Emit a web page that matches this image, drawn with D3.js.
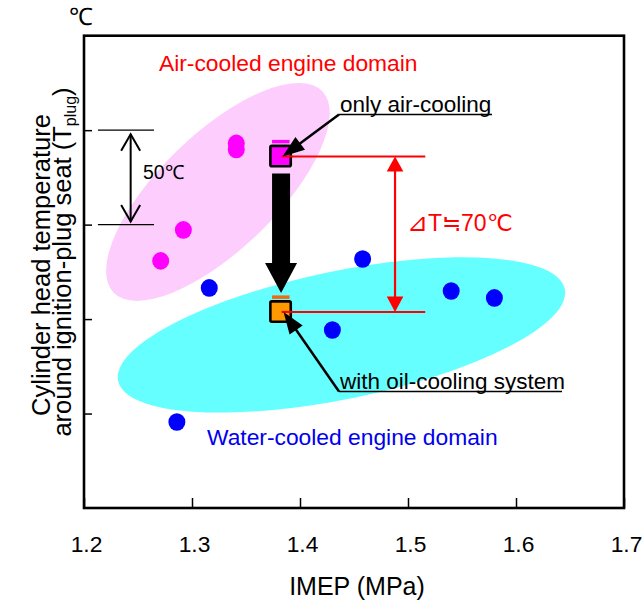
<!DOCTYPE html>
<html><head><meta charset="utf-8">
<script src="https://cdn.jsdelivr.net/npm/d3@7"></script>
<style>body{margin:0;background:#fff}</style>
</head><body><svg id="c" width="642" height="604"></svg>
<script>
// ---------- data ----------
const xTicks = [1.2, 1.3, 1.4, 1.5, 1.6, 1.7];
const yTicks = [50, 100, 150, 200];          // unlabeled, 50 degC apart
const airX   = [1.271, 1.292, 1.341, 1.341];
const airY   = [130.8, 147.2, 193.0, 189.8];
const waterX = [1.286, 1.316, 1.430, 1.458, 1.540, 1.580];
const waterY = [45.5, 116.5, 94.2, 131.8, 114.9, 111.2];
const engineLabels = ["only air-cooling", "with oil-cooling system"];
const engineX = [1.382, 1.382];
const engineY = [186.1, 103.8];
const domainLabels = ["Air-cooled engine domain", "Water-cooled engine domain"];
const domainCX = [1.324, 1.4384];
const domainCY = [167.3, 91.6];
const bracketY = [200, 150];                 // 50 degC reference
const deltaLabel = "⊿T≒70℃";

// ---------- layout ----------
const FONT = '"Liberation Sans", Arial, Helvetica, sans-serif';
const svg = d3.select('#c');
const x = d3.scaleLinear().domain([1.2, 1.7]).range([84, 624]);
const y = d3.scaleLinear().domain([0, 250]).range([508, 35.7]);

// domain ellipses (pixel radii / rotation are styling)
const ellStyle = [
  {rx: 145, ry: 58, rot: -44, fill: '#fdcdfd'},
  {rx: 228, ry: 64, rot: -11.6, fill: '#66ffff'}
];
domainCX.forEach((cx, i) => {
  svg.append('ellipse')
    .attr('transform', `translate(${x(cx)},${y(domainCY[i])}) rotate(${ellStyle[i].rot})`)
    .attr('rx', ellStyle[i].rx).attr('ry', ellStyle[i].ry)
    .attr('fill', ellStyle[i].fill);
});

// axes
const gx = svg.append('g').attr('transform', `translate(0,${y(0)})`)
  .call(d3.axisBottom(x).tickValues(xTicks).tickSizeInner(-10).tickSizeOuter(0).tickPadding(28)
    .tickFormat(d3.format('.1f')));
gx.select('.domain').remove();
gx.selectAll('line').attr('stroke', '#000').attr('stroke-width', 1.5);
gx.selectAll('text').attr('font-family', FONT).attr('font-size', 22.8).attr('fill', '#000').attr('dx', 2);

const gy = svg.append('g').attr('transform', `translate(${x(1.2)},0)`)
  .call(d3.axisLeft(y).tickValues(yTicks).tickSizeInner(-8).tickSizeOuter(0).tickFormat(''));
gy.select('.domain').remove();
gy.selectAll('line').attr('stroke', '#000').attr('stroke-width', 1.5);

// frame
svg.append('rect').attr('x', x(1.2)).attr('y', y(250))
  .attr('width', x(1.7) - x(1.2)).attr('height', y(0) - y(250))
  .attr('fill', 'none').attr('stroke', '#000').attr('stroke-width', 2.6);

// axis titles
svg.append('text').attr('x', 357).attr('y', 595).attr('text-anchor', 'middle')
  .attr('font-family', FONT).attr('font-size', 25).text('IMEP (MPa)');
svg.append('text').attr('x', 69).attr('y', 25)
  .attr('font-family', FONT).attr('font-size', 24).text('℃');
svg.append('text').attr('transform', 'translate(50,265) rotate(-90)')
  .attr('text-anchor', 'middle').attr('font-family', FONT).attr('font-size', 25.5)
  .text('Cylinder head temperature');
const yt2 = svg.append('text').attr('transform', 'translate(71,262) rotate(-90)')
  .attr('text-anchor', 'middle').attr('font-family', FONT).attr('font-size', 25.5);
yt2.append('tspan').text('around ignition-plug seat (T');
yt2.append('tspan').attr('font-size', 16).attr('dy', 5).text('plug');
yt2.append('tspan').attr('dy', -5).text(')');

// domain labels
svg.append('text').attr('x', 159).attr('y', 70.5).attr('fill', '#ff0000')
  .attr('font-family', FONT).attr('font-size', 22.8).text(domainLabels[0]);
svg.append('text').attr('x', 207).attr('y', 445).attr('fill', '#0000ee')
  .attr('font-family', FONT).attr('font-size', 22.8).text(domainLabels[1]);

// 50 degC bracket
const bx0 = x(1.2129), bx1 = x(1.2648), bxa = x(1.2432);
bracketY.forEach(v => {
  svg.append('line').attr('x1', bx0).attr('x2', bx1).attr('y1', y(v)).attr('y2', y(v))
    .attr('stroke', '#000').attr('stroke-width', 1.3);
});
const ya = y(bracketY[0]) + 4, yb = y(bracketY[1]) - 3;
svg.append('line').attr('x1', bxa).attr('x2', bxa).attr('y1', ya).attr('y2', yb)
  .attr('stroke', '#000').attr('stroke-width', 2);
svg.append('path').attr('d', `M${bxa-9.5},${ya+16.5}L${bxa},${ya}L${bxa+9.5},${ya+16.5}`)
  .attr('fill', 'none').attr('stroke', '#000').attr('stroke-width', 2);
svg.append('path').attr('d', `M${bxa-9.5},${yb-16.5}L${bxa},${yb}L${bxa+9.5},${yb-16.5}`)
  .attr('fill', 'none').attr('stroke', '#000').attr('stroke-width', 2);
svg.append('text').attr('x', 143).attr('y', 179).attr('font-family', FONT).attr('font-size', 19.5)
  .text('50℃');

// points
svg.selectAll('.air').data(airX).enter().append('ellipse').attr('class', 'air')
  .attr('cx', d => x(d)).attr('cy', (d, i) => y(airY[i])).attr('rx', 8.5).attr('ry', 8.8)
  .attr('fill', '#ff00ff');
svg.selectAll('.water').data(waterX).enter().append('ellipse').attr('class', 'water')
  .attr('cx', d => x(d)).attr('cy', (d, i) => y(waterY[i])).attr('rx', 8.5).attr('ry', 8.8)
  .attr('fill', '#0000ff');

// red delta-T annotation
const rxEnd = x(1.516), rxV = x(1.488);
const ry1 = y(engineY[0]), ry2 = y(engineY[1]);
[ry1, ry2].forEach(v => {
  svg.append('line').attr('x1', x(engineX[0])).attr('x2', rxEnd).attr('y1', v).attr('y2', v)
    .attr('stroke', '#ff0000').attr('stroke-width', 2);
});
svg.append('line').attr('x1', rxV).attr('x2', rxV).attr('y1', ry1 + 12).attr('y2', ry2 - 12)
  .attr('stroke', '#ff0000').attr('stroke-width', 2.2);
svg.append('path').attr('d', `M${rxV},${ry1}L${rxV-8.3},${ry1+15}L${rxV+8.3},${ry1+15}Z`).attr('fill', '#ff0000');
svg.append('path').attr('d', `M${rxV},${ry2}L${rxV-8.3},${ry2-15.5}L${rxV+8.3},${ry2-15.5}Z`).attr('fill', '#ff0000');
const dt = svg.append('text').attr('x', 407).attr('y', 231).attr('fill', '#ff0000')
  .attr('font-family', FONT).attr('font-size', 23);
dt.append('tspan').attr('font-size', 25).text(deltaLabel.slice(0, 1));
dt.append('tspan').text(deltaLabel.slice(1));

// big black arrow between engines
const ax = x(engineX[0]) + 0.5;
const aTop = ry1 + 17, aHead = ry2 - 49, aTip = ry2 - 19;
svg.append('path')
  .attr('d', `M${ax-9},${aTop}L${ax+9},${aTop}L${ax+9},${aHead}L${ax+16},${aHead}L${ax},${aTip}L${ax-16},${aHead}L${ax-9},${aHead}Z`)
  .attr('fill', '#000');

// engine square markers + small caps
const sqFill = ['#ff00ff', '#ff9900'];
const capFill = ['#ff00ff', '#f06a10'];
engineX.forEach((ex, i) => {
  const cx = x(ex), cy = y(engineY[i]);
  svg.append('rect').attr('x', cx - 8.5).attr('y', cy - 16.5).attr('width', 17.5).attr('height', 3.5)
    .attr('fill', capFill[i]);
  svg.append('rect').attr('x', cx - 10.2).attr('y', cy - 10.5).attr('width', 20.4).attr('height', 20.4)
    .attr('rx', 1.5).attr('fill', sqFill[i]).attr('stroke', '#000').attr('stroke-width', 2.6);
});
// red line starts drawn over squares' centers
[ry1, ry2].forEach(v => {
  svg.append('line').attr('x1', x(engineX[0]) + 1).attr('x2', x(engineX[0]) + 12).attr('y1', v).attr('y2', v)
    .attr('stroke', '#ff0000').attr('stroke-width', 2);
});

// callouts
function callout(tx, ty, ulEnd, tipX, tipY, label) {
  svg.append('text').attr('x', tx + 1).attr('y', ty).attr('font-family', FONT)
    .attr('font-size', 22.5).text(label);
  const uy = ty + 2.5;
  svg.append('line').attr('x1', tx).attr('x2', ulEnd).attr('y1', uy).attr('y2', uy)
    .attr('stroke', '#000').attr('stroke-width', 1.6);
  const dx = tipX - tx, dy = tipY - uy, L = Math.hypot(dx, dy);
  const ux = dx / L, uyv = dy / L, hl = 22, hw = 8;
  const bx = tipX - ux * hl, by = tipY - uyv * hl;
  svg.append('line').attr('x1', tx).attr('y1', uy).attr('x2', bx + ux * 2).attr('y2', by + uyv * 2)
    .attr('stroke', '#000').attr('stroke-width', 2.5);
  svg.append('path').attr('d',
    `M${tipX},${tipY}L${bx - uyv * hw},${by + ux * hw}L${bx + uyv * hw},${by - ux * hw}Z`)
    .attr('fill', '#000');
}
callout(339, 112, 492, x(engineX[0]) + 2, y(engineY[0]), engineLabels[0]);
callout(339, 389, 562, x(engineX[1]) + 3, y(engineY[1]), engineLabels[1]);
</script></body></html>
